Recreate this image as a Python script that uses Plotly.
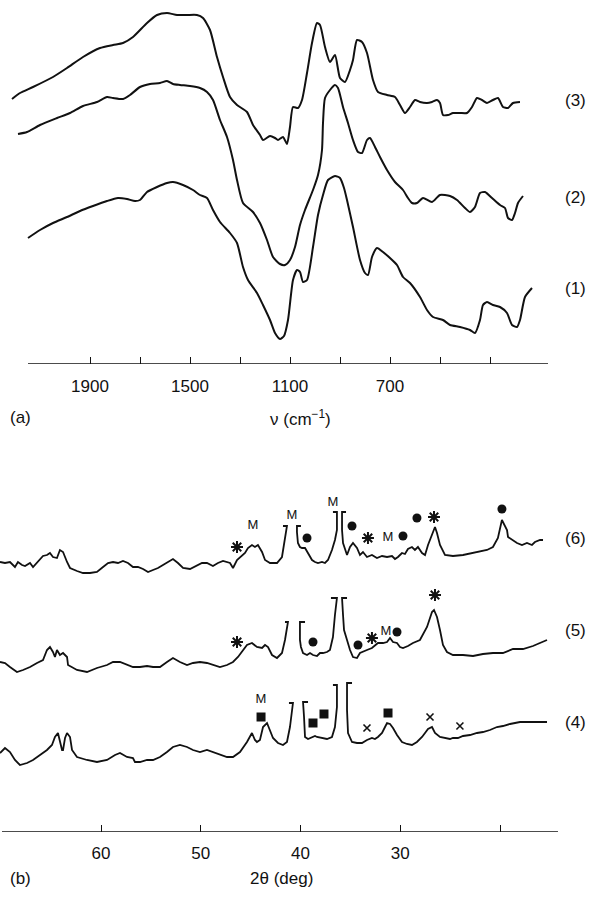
import plotly.graph_objects as go

# ---------------- Panel (a): IR spectra (transmittance, arbitrary units) ----------------
ir3_nu = [2212, 2180, 2128, 2048, 1992, 1928, 1860, 1808, 1768, 1728, 1672, 1632, 1592, 1552, 1512,
          1472, 1448, 1420, 1392, 1368, 1340, 1312, 1272, 1248, 1220, 1208, 1180, 1160, 1148, 1128,
          1112, 1100, 1088, 1068, 1052, 1032, 1012, 992, 980, 960, 940, 920, 900, 880, 860, 848, 832,
          812, 792, 768, 748, 712, 680, 660, 640, 620, 600, 580, 552, 532, 512, 500, 488, 468, 448,
          420, 392, 372, 352, 332, 312, 288, 268, 248, 228, 208, 180]
ir3_t = [265, 271, 277, 287, 296, 307, 316, 319, 321, 327, 341, 349, 351, 349, 349,
         349, 346, 334, 307, 287, 267, 259, 252, 239, 229, 224, 228, 226, 224, 227,
         220, 237, 257, 256, 264, 291, 321, 341, 339, 317, 302, 309, 286, 282, 294, 304, 324,
         322, 311, 284, 272, 269, 267, 259, 251, 257, 264, 262, 261, 262, 264, 261, 249, 249, 251,
         251, 251, 257, 266, 264, 261, 264, 266, 257, 256, 261, 262]

ir2_nu = [2188, 2152, 2100, 2032, 1980, 1928, 1872, 1832, 1808, 1768, 1740, 1700, 1660, 1620, 1592,
          1568, 1540, 1500, 1460, 1432, 1408, 1380, 1352, 1328, 1312, 1288, 1248, 1220, 1192, 1168,
          1140, 1120, 1100, 1080, 1060, 1040, 1008, 988, 972, 968, 960, 940, 920, 908, 888, 868, 848,
          828, 812, 792, 780, 760, 740, 712, 680, 648, 628, 612, 592, 568, 532, 500, 460, 432, 400,
          380, 360, 340, 320, 292, 260, 240, 228, 212, 200, 188, 168]
ir2_t = [230, 232, 239, 246, 251, 258, 262, 267, 266, 265, 269, 277, 280, 281, 283,
         280, 279, 278, 276, 272, 264, 244, 227, 204, 184, 161, 152, 141, 124, 107,
         100, 99, 104, 117, 139, 154, 174, 189, 214, 241, 266, 274, 279, 276, 257, 241, 224,
         212, 211, 224, 226, 217, 207, 194, 182, 174, 166, 161, 161, 166, 162, 169, 168, 164, 156,
         152, 157, 171, 172, 166, 159, 156, 146, 144, 151, 161, 168]

ir1_nu = [2148, 2100, 2048, 1992, 1940, 1888, 1832, 1788, 1752, 1720, 1700, 1672, 1632, 1592, 1568,
          1528, 1488, 1460, 1432, 1408, 1380, 1340, 1312, 1288, 1268, 1232, 1208, 1180, 1160, 1140,
          1124, 1108, 1088, 1072, 1060, 1048, 1032, 1008, 988, 968, 948, 920, 900, 884, 872, 848,
          820, 800, 788, 772, 752, 728, 700, 672, 648, 620, 580, 552, 528, 488, 460, 420, 380, 360,
          340, 328, 312, 288, 260, 232, 212, 192, 180, 160, 132]
ir1_t = [126, 134, 141, 147, 153, 158, 163, 166, 165, 163, 164, 172, 177, 181, 182,
         179, 174, 169, 166, 154, 142, 131, 121, 97, 84, 71, 59, 44, 31, 25,
         28, 44, 84, 94, 92, 82, 84, 117, 149, 169, 184, 188, 186, 176, 164, 137,
         104, 91, 89, 107, 116, 112, 106, 99, 87, 81, 67, 54, 47, 44, 39, 37, 34, 31,
         44, 59, 62, 59, 57, 51, 39, 37, 44, 67, 76]

ir_major = [1900, 1500, 1100, 700]
ir_minor = [1700, 1300, 900, 500, 300]

# ---------------- Panel (b): XRD patterns (intensity, arbitrary units) ----------------
N = None
x6 = [70.13, 69.63, 69.13, 68.63, 68.33, 67.92, 67.62, 67.12, 66.82, 66.12, 65.82, 65.42, 65.12, 64.82,
      64.42, 64.12, 63.81, 63.41, 63.11, 62.41, 61.81, 61.11, 60.41, 59.80, 59.30, 58.80, 58.30, 57.80,
      57.30, 56.80, 56.30, 55.79, 55.29, 54.79, 54.29, 53.79, 53.29, 52.79, 52.29, 51.78, 51.08, 50.38,
      49.88, 49.38, 48.78, 48.28, 47.77, 47.07, 46.77, 46.37, 46.07, 45.57, 45.27, 44.87, 44.57, 44.27,
      43.86, 43.56, 43.06, 42.36, 41.86, 41.56, 41.36, 41.76, N,
      39.96, 40.36, 40.36, 40.26, 40.06, 39.85, 39.55, 39.25, 38.85, 38.55, 38.25, 37.85, 37.55, 37.25,
      36.85, 36.55, 36.35, 36.35, 36.75, N,
      35.44, 35.84, 35.84, 35.74, 35.34, 35.04, 34.74, 34.34, 34.04, 33.74, 33.34, 32.84, 32.34, 31.83,
      31.33, 30.83, 30.53, 30.23, 29.83, 29.53, 29.23, 28.83, 28.53, 28.23, 27.82, 27.52, 27.22, 26.82,
      26.52, 26.32, 26.02, 25.52, 24.72, 23.71, 22.71, 22.01, 21.31, 20.71, 20.21, 19.81, 19.51, 19.30,
      19.20, 18.80, 18.30, 17.80, 17.30, 16.80, 16.50, 15.99, 15.69]
y6 = [277, 276, 277, 272, 277, 274, 273, 276, 272, 279, 283, 284, 286, 282,
      281, 289, 287, 277, 271, 268, 266, 266, 267, 272, 276, 277, 276, 278,
      276, 272, 272, 270, 267, 269, 271, 274, 277, 280, 276, 271, 270, 274,
      276, 276, 273, 276, 278, 276, 271, 279, 282, 286, 291, 294, 292, 294,
      287, 279, 276, 276, 282, 299, 313, 313, N,
      313, 313, 307, 296, 292, 291, 291, 286, 279, 277, 276, 277, 276, 279,
      289, 299, 309, 327, 327, N,
      327, 327, 309, 296, 284, 292, 296, 291, 284, 287, 282, 284, 281, 283,
      282, 283, 280, 282, 286, 285, 290, 292, 289, 292, 286, 284, 294, 304,
      312, 306, 294, 284, 283, 284, 286, 287, 289, 292, 301, 319, 313, 309,
      302, 299, 296, 294, 296, 294, 297, 299, 299]

x5 = [70.13, 69.63, 69.13, 68.43, 67.82, 67.12, 66.42, 65.82, 65.42, 65.12, 64.82, 64.62, 64.42, 64.12,
      63.81, 63.41, 63.31, 62.41, 61.41, 60.41, 59.40, 58.80, 58.10, 57.40, 56.80, 56.10, 55.39, 54.79,
      54.09, 53.39, 52.79, 52.09, 51.38, 50.78, 50.08, 49.38, 48.78, 48.08, 47.37, 46.77, 46.27, 45.77,
      45.37, 44.87, 44.37, 43.86, 43.56, 43.26, 42.86, 42.36, 41.86, 41.56, 41.26, 41.56, N,
      39.55, 40.06, 40.06, 39.96, 39.75, 39.35, 39.05, 38.75, 38.35, 38.05, 37.75, 37.35, 37.05, 36.75,
      36.55, 36.35, 36.95, N,
      35.34, 35.84, 35.74, 35.64, 35.34, 35.04, 34.74, 34.34, 34.04, 33.74, 33.34, 32.84, 32.54, 32.24,
      31.73, 31.33, 31.03, 30.73, 30.33, 30.03, 29.73, 29.23, 28.73, 28.03, 27.32, 26.82, 26.62, 26.32,
      26.02, 25.72, 25.32, 24.72, 23.71, 22.71, 21.71, 20.71, 19.71, 18.70, 17.70, 16.70, 16.00, 15.29]
y5 = [177, 176, 172, 167, 169, 172, 176, 179, 189, 192, 187, 182, 189, 184,
      186, 182, 174, 169, 167, 171, 174, 177, 177, 174, 172, 172, 173, 172,
      172, 177, 181, 177, 174, 176, 177, 176, 174, 172, 174, 177, 182, 189,
      194, 196, 192, 191, 194, 192, 184, 181, 186, 199, 217, 217, N,
      217, 217, 199, 192, 186, 184, 186, 184, 183, 186, 186, 187, 189, 202,
      224, 241, 241, N,
      241, 241, 224, 209, 199, 189, 182, 181, 186, 187, 189, 191, 194, 196,
      196, 197, 201, 197, 196, 192, 191, 193, 196, 199, 212, 227, 229, 222,
      209, 194, 187, 184, 184, 183, 185, 186, 186, 190, 190, 193, 196, 199]

x4 = [70.13, 69.63, 69.13, 68.63, 68.13, 67.42, 66.82, 66.12, 65.42, 64.92, 64.62, 64.32, 64.12, 63.91,
      63.81, 63.61, 63.41, 63.11, 62.91, 62.41, 61.41, 60.41, 59.40, 58.60, 58.10, 57.40, 56.80, 56.60,
      56.10, 55.39, 54.79, 54.09, 53.39, 52.79, 52.09, 51.38, 50.78, 50.08, 49.38, 48.78, 48.08, 47.37,
      46.77, 46.07, 45.37, 44.87, 44.57, 44.37, 44.07, 43.76, 43.36, 43.06, 42.76, 42.26, 41.76, 41.36,
      41.06, 40.76, 41.16, N,
      39.25, 39.75, 39.65, 39.55, 39.25, 38.85, 38.55, 38.35, 37.85, 37.35, 36.85, 36.55, 36.35, 36.35,
      36.75, N,
      34.84, 35.34, 35.34, 35.24, 34.84, 34.34, 33.84, 33.34, 32.84, 32.54, 32.24, 31.83, 31.53, 31.33,
      31.03, 30.73, 30.33, 29.83, 29.33, 28.83, 28.33, 27.82, 27.52, 27.22, 26.82, 26.52, 26.02, 25.52,
      25.02, 24.72, 24.22, 23.71, 23.01, 22.31, 21.71, 21.01, 20.31, 19.71, 19.00, 18.00, 17.00, 15.29]
y4 = [86, 91, 87, 79, 74, 76, 79, 84, 89, 94, 102, 106, 96, 89,
      89, 101, 106, 102, 89, 82, 79, 77, 79, 84, 86, 82, 81, 77,
      77, 79, 79, 82, 87, 92, 94, 92, 89, 87, 89, 87, 84, 82,
      82, 87, 97, 106, 99, 97, 99, 112, 116, 109, 101, 96, 94, 97,
      112, 136, 136, N,
      137, 137, 122, 102, 100, 102, 103, 102, 101, 100, 102, 112, 132, 154,
      154, N,
      156, 156, 129, 106, 97, 96, 96, 99, 101, 100, 102, 106, 112, 116,
      115, 111, 104, 97, 95, 94, 97, 102, 106, 110, 112, 106, 102, 101,
      100, 101, 101, 103, 104, 106, 107, 109, 112, 113, 115, 117, 117, 117]

# Phase markers
m_label_x = [44.77, 40.86, 36.75, 31.23, 31.43, 43.96]
m_label_y = [313, 323, 336, 301, 207, 139]
dot_x = [39.35, 34.84, 29.73, 28.33, 19.81, 38.75, 34.24, 30.33]
dot_y = [301, 313, 303, 321, 330, 197, 194, 207]
square_x = [43.96, 38.75, 37.65, 31.23]
square_y = [122, 116, 125, 126]
star_x = [46.37, 33.24, 26.62, 46.37, 32.84, 26.52]
star_y = [292, 301, 322, 197, 201, 244]
cross_x = [33.34, 27.02, 24.02]
cross_y = [111, 122, 113]

xrd_major = [60, 50, 40, 30]
xrd_minor = [20]

curve_labels = ["(3)", "(2)", "(1)", "(6)", "(5)", "(4)"]

# ---------------- Figure ----------------
W, H = 590, 898
FONT = "Liberation Sans, Arial, Helvetica, sans-serif"
INK = "#111111"

fig = go.Figure()
for xs, ys in [(ir3_nu, ir3_t), (ir2_nu, ir2_t), (ir1_nu, ir1_t)]:
    fig.add_trace(go.Scatter(x=xs, y=ys, mode="lines",
                             line=dict(color=INK, width=2, shape="spline", smoothing=0.6),
                             xaxis="x", yaxis="y", hoverinfo="skip", showlegend=False))
for xs, ys in [(x6, y6), (x5, y5), (x4, y4)]:
    fig.add_trace(go.Scatter(x=xs, y=ys, mode="lines", line=dict(color=INK, width=1.8),
                             connectgaps=False, xaxis="x2", yaxis="y2", hoverinfo="skip", showlegend=False))

fig.add_trace(go.Scatter(x=dot_x, y=dot_y, mode="markers", xaxis="x2", yaxis="y2", showlegend=False,
                         marker=dict(symbol="circle", size=9, color=INK)))
fig.add_trace(go.Scatter(x=square_x, y=square_y, mode="markers", xaxis="x2", yaxis="y2", showlegend=False,
                         marker=dict(symbol="square", size=9, color=INK)))
fig.add_trace(go.Scatter(x=star_x, y=star_y, mode="markers", xaxis="x2", yaxis="y2", showlegend=False,
                         marker=dict(symbol="asterisk-open", size=10, color=INK,
                                     line=dict(color=INK, width=2))))
fig.add_trace(go.Scatter(x=cross_x, y=cross_y, mode="markers", xaxis="x2", yaxis="y2", showlegend=False,
                         marker=dict(symbol="x-thin-open", size=7, color=INK, line=dict(color=INK, width=1.6))))
fig.add_trace(go.Scatter(x=m_label_x, y=m_label_y, mode="text", text=["M"] * len(m_label_x),
                         textfont=dict(family=FONT, size=13, color=INK), xaxis="x2", yaxis="y2",
                         showlegend=False))

# axis baselines
fig.add_shape(type="line", xref="x", yref="y", x0=2148, x1=68, y0=0, y1=0,
              line=dict(color=INK, width=1.6))
fig.add_shape(type="line", xref="x2", yref="y2", x0=69.93, x1=14.19, y0=7, y1=7,
              line=dict(color=INK, width=1.6))

axis_common = dict(showgrid=False, zeroline=False, showline=False, ticks="inside", ticklen=7,
                   tickwidth=1.4, tickcolor=INK, tickfont=dict(family=FONT, size=17, color=INK))
minor_common = dict(ticks="inside", ticklen=7, tickwidth=1.4, tickcolor=INK, showgrid=False)
fig.update_layout(
    width=W, height=H, margin=dict(l=0, r=0, t=0, b=0),
    paper_bgcolor="white", plot_bgcolor="white",
    xaxis=dict(domain=[0, 1], range=[2260, -100], anchor="y", tickmode="array", tickvals=ir_major,
               ticklabelstandoff=10, minor=dict(tickmode="array", tickvals=ir_minor, **minor_common),
               **axis_common),
    yaxis=dict(domain=[1 - 364 / H, 1], range=[0, 364], visible=False, anchor="x"),
    xaxis2=dict(domain=[0, 1], range=[70.13, 10.98], anchor="y2", tickmode="array", tickvals=xrd_major,
                ticklabelstandoff=9, minor=dict(tickmode="array", tickvals=xrd_minor, **minor_common),
                **axis_common),
    yaxis2=dict(domain=[1 - 832 / H, 1 - 420 / H], range=[7, 419], visible=False, anchor="x2"),
)

lab_y = [100, 198, 288, 538, 630, 722]
for txt, py in zip(curve_labels, lab_y):
    fig.add_annotation(text=txt, x=575 / W, y=1 - py / H, xref="paper", yref="paper", showarrow=False,
                       font=dict(family=FONT, size=17, color=INK), xanchor="center", yanchor="middle")

for txt, px, py, anchor in [("(a)", 8, 418, "left"), ("ν (cm<sup>−1</sup>)", 300, 418, "center"),
                            ("(b)", 8, 878, "left"), ("2θ (deg)", 281, 878, "center")]:
    fig.add_annotation(text=txt, x=px / W, y=1 - py / H, xref="paper", yref="paper", showarrow=False,
                       font=dict(family=FONT, size=17, color=INK), xanchor=anchor, yanchor="middle")

fig.write_html("out.html", config={"displayModeBar": False},
               post_script="document.body.style.margin='0';document.body.style.overflow='hidden';")
